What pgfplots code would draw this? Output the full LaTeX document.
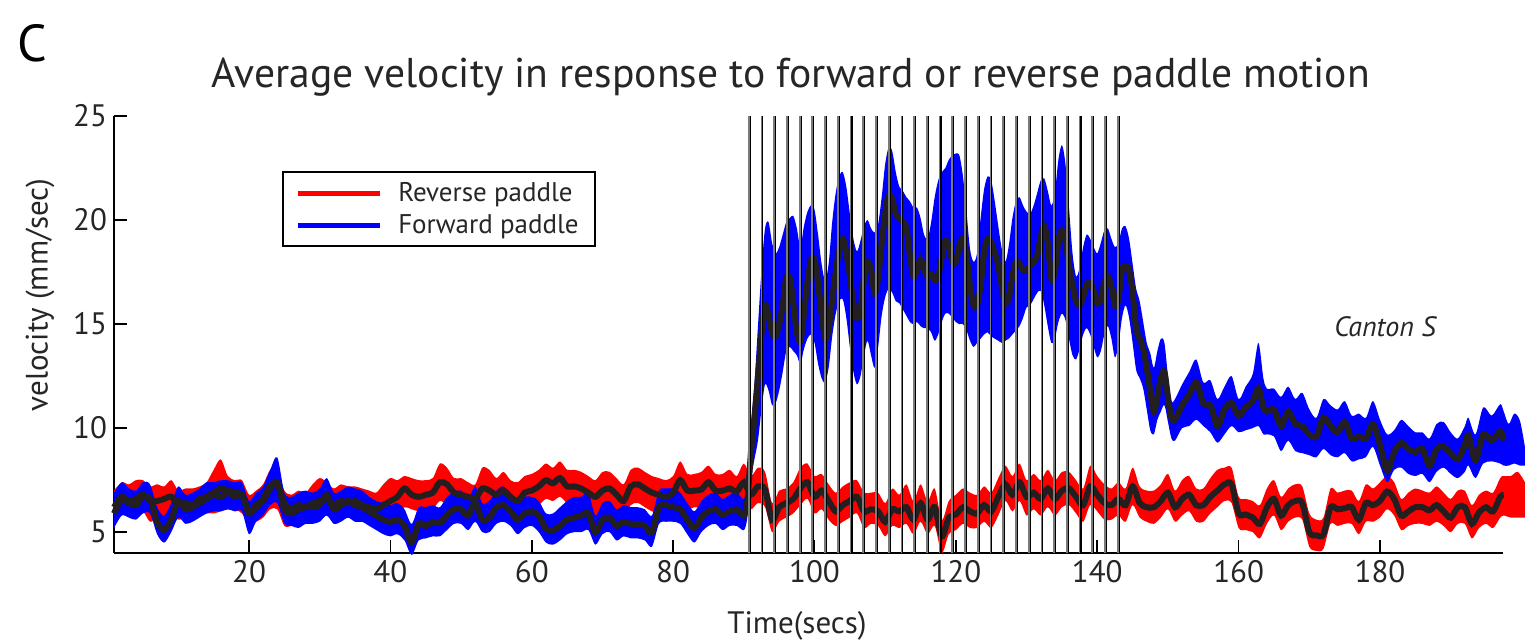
\documentclass[border=0pt]{standalone}
\usepackage{fontspec}
\setmainfont{PT Sans}
\usepackage{pgfplots}
\pgfplotsset{compat=1.18}
\usepackage{pgfplotstable}
\usepgfplotslibrary{fillbetween}
\definecolor{meanc}{HTML}{231F20}
\definecolor{stimgray}{HTML}{7A7A7A}

\pgfplotstableread{
x m lo hi
0.9 6.2 5.3 6.9
2 6.7 6.0 7.3
3 6.5 5.9 7.2
4 6.6 6.0 7.4
5 6.8 6.1 7.4
6 6.5 5.6 7.1
7 6.5 5.8 7.2
8 6.6 5.9 7.1
9 6.7 6.0 7.4
10 6.3 5.7 6.9
11 6.4 5.8 7.0
12 6.3 5.7 7.0
13 6.6 5.9 7.1
14 6.7 6.0 7.3
15 6.9 6.0 7.9
16 7.1 6.1 8.4
17 7.0 6.2 7.6
18 6.9 6.2 7.4
19 6.8 6.0 7.4
20 6.0 5.5 6.7
21 6.3 5.6 6.9
22 6.6 5.8 7.2
23 7.2 6.2 7.9
24 7.3 6.2 7.9
25 6.4 5.4 6.9
26 6.1 5.4 6.7
27 6.3 5.5 6.9
28 6.2 5.6 6.8
29 6.4 5.8 7.2
30 6.5 5.8 7.5
31 6.6 5.9 7.3
32 6.3 5.6 7.0
33 6.5 5.7 7.2
34 6.4 5.8 7.1
35 6.5 5.8 7.1
36 6.3 5.7 7.0
37 6.2 5.6 6.9
38 6.1 5.4 6.8
39 6.3 5.3 7.2
40 6.5 5.8 7.5
41 6.7 6.0 7.4
42 7.1 6.3 7.6
43 6.8 6.2 7.5
44 6.7 6.1 7.4
45 6.8 6.1 7.4
46 6.9 6.2 7.5
47 7.4 6.6 8.2
48 7.3 6.4 8.0
49 6.9 6.1 7.5
50 6.8 6.1 7.5
51 6.7 6.0 7.3
52 6.6 5.8 7.2
53 7.1 6.2 8.0
54 7.0 6.1 7.9
55 6.8 6.1 7.5
56 7.0 6.3 7.8
57 6.7 6.0 7.4
58 6.5 5.9 7.3
59 6.9 6.2 7.6
60 7.0 6.3 7.7
61 7.2 6.4 7.9
62 7.5 6.7 8.2
63 7.35 6.6 8.0
64 7.6 6.8 8.3
65 7.2 6.5 7.9
66 7.2 6.5 7.9
67 7.1 6.4 7.8
68 6.9 6.1 7.6
69 6.7 5.7 7.4
70 7.0 6.2 7.8
71 7.1 6.4 7.8
72 6.8 6.0 7.5
73 6.5 5.7 7.2
74 7.2 6.4 7.9
75 7.3 6.5 8.0
76 7.1 6.3 7.8
77 6.9 6.1 7.6
78 6.8 6.0 7.5
79 6.7 5.8 7.4
80 6.9 6.1 7.6
81 7.5 6.7 8.3
82 7.0 6.2 7.7
83 7.0 6.3 7.7
84 7.05 6.3 7.8
85 7.4 6.6 8.1
86 7.0 6.3 7.7
87 7.0 6.3 7.7
88 7.1 6.4 7.9
89 6.95 6.2 7.6
90 7.4 6.6 8.2
91 6.8 6.2 7.6
92 7.2 6.5 8.0
93 7.05 6.3 7.8
94 5.6 5.1 6.3
95 6.2 5.6 6.9
96 6.4 5.8 7.0
97 6.6 6.0 7.3
98 7.1 6.4 8.0
99 7.4 6.7 8.2
100 6.7 6.0 7.6
101 7.0 6.2 7.7
102 6.5 5.7 7.2
103 6.0 5.4 6.8
104 6.3 5.6 7.1
105 6.5 5.8 7.3
106 6.7 6.0 7.4
107 6.0 5.3 6.8
108 6.1 5.5 6.8
109 6.0 5.4 6.8
110 5.5 4.9 6.3
111 6.1 5.4 7.0
112 6.0 5.3 6.7
113 6.2 5.5 7.2
114 5.6 5.0 6.4
115 6.4 5.6 7.2
116 5.6 5.0 6.4
117 6.2 5.4 7.0
118 4.8 4.1 5.5
119 5.7 5.0 6.4
120 5.85 5.2 6.7
121 6.2 5.5 7.0
122 6.0 5.3 6.8
123 5.9 5.3 6.7
124 6.3 5.6 7.1
125 6.0 5.3 6.8
126 6.7 5.9 7.5
127 7.3 6.6 8.1
128 6.8 6.1 7.6
129 7.4 6.6 8.2
130 6.7 5.9 7.4
131 6.9 6.2 7.7
132 6.6 5.9 7.4
133 7.1 6.3 7.9
134 6.6 5.9 7.4
135 7.0 6.3 7.8
136 7.1 6.4 7.8
137 6.7 6.0 7.4
138 6.3 5.6 7.0
139 7.2 6.4 8.1
140 6.8 6.1 7.6
141 6.4 5.7 7.2
142 6.3 5.7 7.0
143 6.6 5.9 7.3
144 6.3 5.6 7.0
145 7.2 6.4 8.0
146 6.4 5.8 7.1
147 6.2 5.6 6.9
148 6.2 5.5 6.9
149 6.5 5.8 7.2
150 6.9 6.2 7.7
151 6.2 5.6 6.9
152 6.6 5.9 7.4
153 6.8 6.1 7.6
154 6.3 5.6 7.0
155 6.3 5.6 7.0
156 6.7 6.0 7.5
157 7.0 6.3 7.9
158 7.3 6.6 8.0
159 7.3 6.5 8.0
160 5.9 5.3 6.6
161 5.85 5.2 6.5
162 5.7 5.1 6.4
163 5.4 4.8 6.2
164 6.2 5.5 7.0
165 6.6 5.9 7.4
166 5.8 5.2 6.6
167 6.3 5.6 7.0
168 6.5 5.8 7.2
169 6.4 5.7 7.1
170 5.0 4.4 5.8
171 4.85 4.2 5.5
172 4.9 4.3 5.6
173 6.2 5.5 7.0
174 6.1 5.4 6.8
175 6.15 5.5 6.9
176 6.2 5.5 6.9
177 5.6 5.0 6.4
178 6.4 5.6 7.2
179 6.3 5.6 7.0
180 6.5 5.8 7.3
181 6.95 6.2 7.6
182 6.6 5.9 7.3
183 5.8 5.2 6.5
184 6.0 5.4 6.8
185 6.2 5.5 7.0
186 6.2 5.5 6.9
187 6.05 5.4 6.8
188 6.3 5.6 7.1
189 6.0 5.4 6.8
190 5.7 5.1 6.5
191 6.2 5.5 6.9
192 6.2 5.5 6.9
193 5.4 4.8 6.2
194 5.95 5.3 6.7
195 6.2 5.5 6.9
196 6.0 5.3 6.8
197 6.7 5.8 7.5
197.5 6.8 5.9 7.6
198.5 6.5 5.8 7.6
199.5 6.6 5.8 7.8
200.5 6.7 5.8 7.3
}\reddata

\pgfplotstableread{
x m lo hi
0.9 5.9 5.3 6.8
2 6.6 5.9 7.3
3 6.4 5.8 7.0
4 6.3 5.7 6.9
5 6.7 6.0 7.3
6 6.6 6.0 7.2
7 5.5 5.0 6.1
8 5.1 4.6 5.7
9 5.6 5.1 6.3
10 6.5 5.8 7.1
11 6.1 5.5 6.7
12 6.2 5.6 6.8
13 6.4 5.8 7.0
14 6.6 6.0 7.3
15 6.8 6.1 7.3
16 6.7 6.1 7.4
17 6.9 6.2 7.4
18 6.7 6.1 7.3
19 6.8 6.1 7.3
20 5.9 5.0 6.4
21 6.2 5.6 6.8
22 6.5 5.9 7.1
23 7.1 6.4 7.9
24 7.4 6.5 8.5
25 6.1 5.5 6.8
26 5.9 5.4 6.6
27 6.1 5.3 6.8
28 6.2 5.5 6.9
29 6.2 5.5 6.8
30 6.3 5.6 7.0
31 6.8 5.9 7.5
32 6.1 5.5 6.8
33 6.3 5.6 6.9
34 6.5 5.8 7.1
35 6.3 5.6 7.0
36 6.2 5.6 6.9
37 6.0 5.4 6.6
38 5.8 5.2 6.4
39 5.6 5.0 6.3
40 5.5 4.9 6.2
41 5.6 5.0 6.3
42 5.3 4.7 6.0
43 4.5 4.0 5.3
44 5.4 4.7 6.1
45 5.3 4.8 6.1
46 5.5 4.9 6.2
47 5.45 4.9 6.1
48 5.8 5.2 6.6
49 6.1 5.5 6.8
50 6.1 5.5 6.9
51 5.8 5.2 6.5
52 6.4 5.6 7.1
53 5.6 5.1 6.3
54 5.7 5.1 6.4
55 6.2 5.5 6.9
56 6.3 5.6 7.1
57 6.0 5.4 6.7
58 5.6 5.0 6.3
59 5.9 5.3 6.6
60 6.0 5.4 6.6
61 5.8 5.1 6.4
62 5.15 4.6 5.8
63 5.1 4.5 5.8
64 5.3 4.7 6.1
65 5.6 5.0 6.4
66 5.7 5.1 6.6
67 5.8 5.1 6.6
68 5.9 5.2 6.8
69 5.0 4.5 5.7
70 5.6 5.0 6.3
71 5.7 5.1 6.4
72 5.3 4.7 6.0
73 5.5 4.9 6.2
74 5.4 4.8 6.1
75 5.4 4.8 6.1
76 5.3 4.7 6.0
77 5.0 4.4 5.7
78 6.2 5.5 6.9
79 6.3 5.6 7.0
80 6.2 5.6 7.0
81 6.1 5.5 6.8
82 5.6 5.0 6.3
83 5.2 4.6 5.9
84 5.7 5.1 6.4
85 6.0 5.4 6.7
86 6.1 5.5 6.8
87 5.85 5.2 6.5
88 6.0 5.4 6.7
89 6.1 5.4 6.8
90 5.8 5.2 6.5
90.5 6.5 5.8 7.3
91 8.8 7.6 10.0
91.5 10.5 8.6 12.0
92 12.5 9.5 14.8
92.5 14.5 11.0 17.5
93 15.9 12.2 19.5
93.5 15.4 11.9 19.8
94 14.6 11.2 18.8
94.5 14.4 11.3 18.3
95 15.0 11.9 18.6
95.5 15.9 12.8 19.2
96 17.2 13.8 19.8
96.5 17.2 14.0 20.0
97 16.0 13.8 20.1
97.5 14.6 13.6 19.5
98 14.2 13.2 18.6
98.5 15.5 13.9 19.6
99 17.0 14.4 20.3
99.5 18.1 14.6 20.6
100 18.1 14.2 20.4
100.5 17.0 13.2 19.2
101 15.5 12.5 17.8
101.5 14.3 12.3 17.0
102 14.8 13.0 17.8
102.5 16.2 14.5 19.8
103 17.5 15.6 21.2
103.5 18.6 16.2 22.0
104 19.1 16.3 22.2
104.5 18.4 15.4 21.5
105 17.3 14.0 20.2
105.5 16.0 12.8 19.0
106 15.3 12.2 18.4
106.5 15.6 12.6 18.9
107 17.2 13.6 19.6
107.5 18.0 14.3 19.9
108 17.6 13.6 19.5
108.5 16.5 13.0 19.3
109 17.2 14.0 19.7
109.5 18.9 15.5 21.0
110 20.3 16.4 22.6
110.5 21.2 16.8 23.4
111 21.0 16.6 23.2
111.5 20.3 16.2 22.2
112 20.1 16.1 21.5
112.5 19.9 15.8 21.3
113 19.6 15.5 21.0
113.5 18.3 15.2 20.8
114 17.3 15.1 20.5
114.5 17.6 15.2 20.5
115 18.1 15.0 20.0
115.5 17.6 14.9 19.2
116 17.3 14.9 19.0
116.5 17.4 14.7 19.8
117 17.1 14.3 21.0
117.5 17.3 14.6 21.8
118 18.2 15.2 22.2
118.5 19.0 15.6 22.4
119 18.8 15.6 22.8
119.5 18.0 15.4 23.0
120 18.0 15.2 23.1
120.5 18.8 15.1 23.0
121 19.1 15.1 22.0
121.5 18.3 14.8 20.3
122 16.8 14.3 18.5
122.5 15.9 14.0 17.9
123 15.9 14.2 18.3
123.5 16.9 14.4 20.0
124 18.5 14.6 21.4
124.5 19.1 14.7 22.0
125 18.9 14.5 21.8
125.5 18.4 14.4 20.8
126 17.8 14.3 19.6
126.5 16.8 14.2 18.5
127 16.0 14.3 17.9
127.5 16.3 14.4 18.7
128 17.3 14.6 20.0
128.5 18.0 14.8 20.8
129 17.9 15.0 21.0
129.5 17.6 15.4 20.6
130 17.6 15.9 20.3
130.5 17.8 16.0 20.2
131 18.0 16.3 20.6
131.5 18.3 16.6 21.2
132 19.2 16.7 21.8
132.5 19.7 16.0 21.9
133 18.9 15.0 21.3
133.5 17.2 14.2 20.6
134 17.5 14.4 21.2
134.5 19.0 15.2 22.8
135 19.5 15.6 23.5
135.5 19.0 15.3 22.6
136 17.8 14.4 20.5
136.5 16.9 13.6 18.3
137 16.1 13.4 17.2
137.5 15.9 13.9 17.6
138 16.3 14.6 18.6
138.5 16.9 14.9 19.2
139 17.0 14.6 19.0
139.5 16.6 14.0 18.6
140 16.0 13.5 18.3
140.5 16.2 13.8 18.8
141 17.0 14.6 19.4
141.5 17.3 15.0 19.5
142 16.8 14.4 19.0
142.5 15.9 13.5 18.6
143 16.2 14.1 18.8
143.5 17.6 15.4 19.5
144 17.8 16.0 19.6
144.5 17.6 15.4 19.0
145 16.5 14.2 17.8
145.5 14.8 12.9 16.6
146 14.3 12.5 16.0
146.5 13.8 12.0 15.0
147 12.9 11.0 14.0
147.5 11.8 10.0 13.5
148 10.8 9.8 12.8
148.5 11.5 10.5 13.6
149 12.4 10.9 14.2
149.5 12.7 11.2 14.0
150 11.5 10.4 12.4
150.5 10.5 9.6 11.2
151 10.4 9.5 11.3
152 11.1 10.1 12.0
153 11.6 10.2 12.6
154 12.2 10.5 13.2
155 11.2 10.2 12.1
156 11.1 9.9 12.2
157 10.1 9.4 11.3
158 10.9 9.8 11.9
159 11.2 10.2 12.4
160 10.6 9.9 11.3
161 11.0 10.0 11.9
162 11.3 10.1 12.5
162.8 11.9 10.2 14.0
163.5 11.0 9.8 12.3
164 10.8 9.8 11.8
165 10.9 9.7 11.8
166 10.1 9.0 11.4
167 10.8 9.5 11.9
168 10.2 9.0 11.3
169 10.1 8.9 11.6
170 9.7 8.8 10.8
171 9.6 8.7 10.4
172 10.5 9.1 11.3
173 10.1 8.8 11.0
174 9.8 8.7 10.8
175 10.3 8.9 11.2
176 9.5 8.5 10.5
177 9.6 8.6 10.6
178 9.5 8.7 10.4
179 10.2 9.2 11.2
180 9.2 8.3 10.3
181 7.95 7.5 9.6
182 8.85 8.1 9.8
183 9.3 8.2 10.3
184 9.0 7.9 10.0
185 8.85 7.8 9.7
186 9.0 7.9 9.7
187 8.2 7.5 9.4
188 9.0 8.0 10.1
189 9.1 8.2 10.2
190 8.8 7.9 9.7
191 8.5 7.7 9.4
192 9.2 8.0 10.0
192.5 9.65 8.3 10.4
193.5 8.45 7.7 9.6
194.6 9.7 8.4 10.9
195.8 9.4 8.5 10.5
197 9.85 8.4 11.05
197.5 9.4 8.3 10.7
198.2 9.5 8.3 10.1
199 9.6 8.4 10.6
199.8 9.5 8.3 10.25
200.5 9.0 8.3 9.0
}\bluedata

\pgfplotstableread{
x y
90.7 4
90.7 25
90.7 nan
92.5 4
92.5 25
92.5 nan
94.3 4
94.3 25
94.3 nan
96.1 4
96.1 25
96.1 nan
97.9 4
97.9 25
97.9 nan
99.7 4
99.7 25
99.7 nan
101.5 4
101.5 25
101.5 nan
103.3 4
103.3 25
103.3 nan
105.1 4
105.1 25
105.1 nan
106.9 4
106.9 25
106.9 nan
108.7 4
108.7 25
108.7 nan
110.5 4
110.5 25
110.5 nan
112.3 4
112.3 25
112.3 nan
114.1 4
114.1 25
114.1 nan
115.9 4
115.9 25
115.9 nan
117.7 4
117.7 25
117.7 nan
119.5 4
119.5 25
119.5 nan
121.3 4
121.3 25
121.3 nan
123.1 4
123.1 25
123.1 nan
124.9 4
124.9 25
124.9 nan
126.7 4
126.7 25
126.7 nan
128.5 4
128.5 25
128.5 nan
130.3 4
130.3 25
130.3 nan
132.1 4
132.1 25
132.1 nan
133.9 4
133.9 25
133.9 nan
135.7 4
135.7 25
135.7 nan
137.5 4
137.5 25
137.5 nan
139.3 4
139.3 25
139.3 nan
141.1 4
141.1 25
141.1 nan
142.9 4
142.9 25
142.9 nan
}\stimdata

\begin{document}
\begin{tikzpicture}
\begin{axis}[
  at={(0pt,0pt)}, anchor=south west,
  width=694.5pt, height=218.5pt, scale only axis,
  xmin=0.9, xmax=197.4, ymin=4, ymax=25,
  axis x line*=bottom, axis y line*=left,
  axis line style={line width=0.8pt, -},
  xtick={20,40,...,180}, ytick={5,10,15,20,25},
  tick align=inside, major tick length=6.5pt,
  tick style={line width=0.8pt, black},
  tick label style={font=\fontsize{15.5}{18}\selectfont, text=black!85},
  /pgf/number format/assume math mode=true,
  clip=false,
  legend style={at={(0.121,0.874)}, anchor=north west, draw=black, line width=1pt,
    font=\fontsize{13.5}{16}\selectfont, inner xsep=6pt, inner ysep=3pt,
    row sep=1pt, text=black!85},
  legend cell align=left,
  legend image code/.code={\draw[#1] (0pt,0pt) -- (41pt,0pt); \path (47pt,0pt);},
]
\addplot[name path=rhi, draw=none, smooth, forget plot] table[x=x, y expr=\thisrow{hi}+0.1]{\reddata};
\addplot[name path=rlo, draw=none, smooth, forget plot] table[x=x, y expr=\thisrow{lo}-0.1]{\reddata};
\addplot[red, forget plot] fill between[of=rhi and rlo];
\addplot[name path=bhi, draw=none, smooth, forget plot] table[x=x, y expr=\thisrow{hi}+0.1]{\bluedata};
\addplot[name path=blo, draw=none, smooth, forget plot] table[x=x, y expr=\thisrow{lo}-0.1]{\bluedata};
\addplot[blue, forget plot] fill between[of=bhi and blo];
\addplot[meanc, line width=3pt, smooth, restrict x to domain=0:197.6, forget plot] table[x=x, y=m]{\reddata};
\addplot[meanc, line width=3pt, smooth, restrict x to domain=0:197.6, forget plot] table[x=x, y=m]{\bluedata};
\addplot[stimgray, line width=0.9pt, unbounded coords=jump, forget plot] table[x=x, y=y]{\stimdata};
\addplot[black, line width=0.55pt, unbounded coords=jump, forget plot] table[x expr=\thisrow{x}+0.2, y=y]{\stimdata};
\addlegendimage{red, line width=2.6pt}
\addlegendentry{Reverse paddle}
\addlegendimage{blue, line width=2.6pt}
\addlegendentry{Forward paddle}
\node[anchor=base, font=\fontsize{14}{17}\selectfont\itshape, text=black!85] at (axis cs:180.7,14.41) {Canton S};
\end{axis}
\node[anchor=base, font=\fontsize{20.8}{25}\selectfont, text=black!85] at (338.5pt,232.5pt) {Average velocity in response to forward or reverse paddle motion};
\node[anchor=base west, font=\fontsize{26}{30}\selectfont] at (-52pt,245.5pt) {C};
\node[rotate=90, font=\fontsize{15.5}{18}\selectfont, text=black!85] at (-37pt,129pt) {velocity (mm/sec)};
\node[font=\fontsize{15.5}{18}\selectfont, text=black!85] at (341.5pt,-36.5pt) {Time(secs)};
\pgfresetboundingbox
\path[use as bounding box] (-57pt,-43.85pt) rectangle (711.5pt,276.5pt);
\end{tikzpicture}
\end{document}
